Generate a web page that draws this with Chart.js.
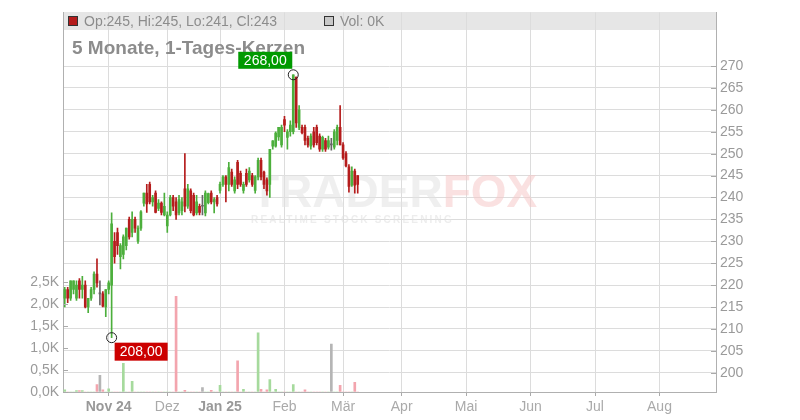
<!DOCTYPE html>
<html>
<head>
<meta charset="utf-8">
<script src="https://cdn.jsdelivr.net/npm/chart.js@4.4.1/dist/chart.umd.min.js"></script>
<style>
  body { margin: 0; background: #fff; }
  canvas { display: block; }
</style>
</head>
<body>
<canvas id="chart" width="800" height="420"></canvas>
<script>
// daily candles, index 1 = first trading day shown (mid Oct 24)
var opens  = [217,219,217,219,217,221,219,220,215,217,219,222.5,218,218,215,219,220,230,232,226.5,
              227,229,235,232,235,230,233,238.7,241,243,239,241,237.5,238.7,236,233.5,236,240,239,236.5,
              237,242,238,241.5,240.5,236.5,238,238,236.5,238.8,241,239,240,241.6,243,244.7,243,245.8,241.5,248,
              245.5,241.6,245.5,244,245,241.6,244.7,248.5,245.8,244,243,251.7,251.7,253.8,252,257.8,253.7,255,255,267.5,
              256,256,256,253.5,251.7,255,256,254,251,253,251.5,252,251.5,253,256,252,250,247,242.8,246,245];
var highs  = [219.5,219.5,221,221,221,221.5,222,221,217,219.5,223,226,221,218.5,219,221,236.5,232,233,229.5,
              231.5,233,235.5,236.7,235.5,233.5,237,241,243,243.5,240.5,241.5,239.5,239,241,236.7,240.5,240.5,240,240.5,
              240,250,243,242,241,240.5,238.5,240.5,241.5,241,241.5,240,240.5,243.5,245,245,248,246.5,244.7,248.5,
              246,243.5,246.5,246.8,245.5,245,249,249,246,244.5,251,253,255,256,256.5,258.5,255.5,257.5,268,267.5,
              261,256.5,256.5,254,254.5,256,256.5,254.5,254,253.5,254,253.5,255.5,256.5,261,252.5,250.5,247.5,247,246.5,245];
var lows   = [215,216,216.5,218,216.5,217,217,214.8,213.7,216.5,218,219.5,215.5,215,212.8,218,208,225,227,223.7,
              226,228,230.5,231,232,229.5,232.5,238,236.6,238.5,238,236.5,237,236,235.8,232,235.8,237,235,236,
              236,236.7,237.5,236.5,235.8,236,236,236,235.8,238.5,238.5,236.5,238,241,242.5,239,241.5,242.5,241,242,
              242.5,241,242.5,243.5,242.5,241,244,244,242,240.5,240,251,251.5,253,251.5,255,251,254,254.5,256,
              255.5,254.5,252,251.5,251,251.5,252,250.5,250.5,250.5,251,250.8,251,252,252,248.7,247,241.2,242.5,241,241];
var closes = [219,217,221,221,220,219,220,215,217,219,222.5,220.5,218,215.2,219,220.5,234,226.5,229,229,
              231,233,231,235,233,233,236.7,241,238.5,239,240,236.6,238.7,236.6,238,236,240,238,236,239.5,
              239,238,242,237,236,239,236.6,238,241,240.9,239,239.5,238.5,243,244.7,243,246.8,243,244,243,
              243,243,243,246,243,244.7,248.5,244.7,243,241.5,251,252.9,254.7,256,256,256.5,255,256.5,268,257,
              260,254.8,253,252,254,252,252.5,251,253.7,251,253,252,255,256,252,249,247.2,242.5,246,242.8,243];
var volumes = [50,0,0,0,30,30,30,0,0,0,0,170,380,50,0,70,0,0,0,0,
               650,0,0,240,0,0,0,0,0,0,0,0,0,0,0,0,0,0,2170,0,
               0,40,0,0,0,0,0,100,0,0,40,0,0,150,0,0,0,0,0,710,
               0,60,0,0,0,0,1340,60,0,50,280,0,60,0,0,0,0,0,170,0,
               0,0,50,0,0,0,0,0,0,0,0,1090,0,0,150,0,0,0,0,220,0];

// month ticks, as trading-day index
var monthTicks  = [16, 36, 54, 76, 96, 116, 138, 160, 182, 204];
var monthLabels = ["Nov 24", "Dez", "Jan 25", "Feb", "Mär", "Apr", "Mai", "Jun", "Jul", "Aug"];
var priceTicks  = [200, 205, 210, 215, 220, 225, 230, 235, 240, 245, 250, 255, 260, 265, 270];
var volTicks    = [0, 500, 1000, 1500, 2000, 2500];

var chartTitle = "5 Monate, 1-Tages-Kerzen";

var UP = "#4caf3c", DOWN = "#b51c1c", FLAT = "#b5b5b5";
var VOL_UP = "#a6da9d", VOL_DOWN = "#f3a5ae";
var FONT = "'Liberation Sans', Arial, sans-serif";

var bodies = [], wicks = [], vols = [], bodyCols = [], volCols = [];
for (var i = 0; i < opens.length; i++) {
  var x = i + 1;
  bodies.push({ x: x, y: [opens[i], closes[i]] });
  wicks.push({ x: x, y: [lows[i], highs[i]] });
  vols.push({ x: x, y: volumes[i] });
  var c = closes[i] > opens[i] ? UP : (closes[i] < opens[i] ? DOWN : FLAT);
  bodyCols.push(c === FLAT ? "#666" : c);
  volCols.push(c === UP ? VOL_UP : (c === DOWN ? VOL_DOWN : FLAT));
}

function fmt(v) { return v.toFixed(2).replace(".", ","); }

// header band, title and watermark under the marks
var backdrop = {
  id: "backdrop",
  beforeDraw: function(chart) {
    var ctx = chart.ctx, a = chart.chartArea;
    ctx.save();
    ctx.fillStyle = "#e6e6e6";
    ctx.fillRect(a.left, 12, a.right - a.left, 18);
    ctx.restore();
  },
  beforeDatasetsDraw: function(chart) {
    var ctx = chart.ctx;
    ctx.save();
    ctx.font = "bold 46px " + FONT;
    ctx.textBaseline = "alphabetic";
    ctx.fillStyle = "rgba(225,225,225,0.55)";
    ctx.fillText("TRADER", 251, 207);
    var w = ctx.measureText("TRADER").width;
    ctx.fillStyle = "rgba(245,200,200,0.55)";
    ctx.fillText("FOX", 251 + w, 207);
    ctx.font = "bold 10px " + FONT;
    ctx.letterSpacing = "2.2px";
    ctx.fillStyle = "rgba(225,225,225,0.6)";
    ctx.fillText("REALTIME STOCK SCREENING", 251, 223);
    ctx.restore();
  },
  afterDraw: function(chart) {
    var ctx = chart.ctx;
    var last = opens.length - 1;
    ctx.save();
    // legend line in the band
    var lc = closes[last] >= opens[last] ? UP : DOWN;
    ctx.fillStyle = lc;
    ctx.fillRect(68, 16, 9, 9);
    ctx.strokeStyle = "#333";
    ctx.lineWidth = 1;
    ctx.strokeRect(68.5, 16.5, 9, 9);
    ctx.fillStyle = "#c8c8c8";
    ctx.fillRect(324, 16, 9, 9);
    ctx.strokeRect(324.5, 16.5, 9, 9);
    ctx.font = "14px " + FONT;
    ctx.fillStyle = "#8c8c8c";
    ctx.textBaseline = "alphabetic";
    ctx.fillText("Op:" + opens[last] + ", Hi:" + highs[last] + ", Lo:" + lows[last] + ", Cl:" + closes[last], 84, 26);
    ctx.fillText("Vol: " + Math.round(volumes[last] / 1000) + "K", 340, 26);
    // title
    ctx.font = "bold 19px " + FONT;
    ctx.fillStyle = "#8c8c8c";
    ctx.fillText(chartTitle, 72, 54);
    ctx.restore();
  }
};

// small ticks on the inner side of both value axes
var innerTicks = {
  id: "innerTicks",
  afterDatasetsDraw: function(chart) {
    var ctx = chart.ctx, a = chart.chartArea;
    var ps = chart.scales.price, vs = chart.scales.vol;
    ctx.save();
    ctx.strokeStyle = "#aaa";
    ctx.lineWidth = 1;
    ctx.beginPath();
    priceTicks.forEach(function(t) {
      var y = Math.round(ps.getPixelForValue(t)) + 0.5;
      ctx.moveTo(a.right - 5, y); ctx.lineTo(a.right, y);
    });
    volTicks.forEach(function(t) {
      var y = Math.round(vs.getPixelForValue(t)) + 0.5;
      ctx.moveTo(a.left, y); ctx.lineTo(a.left + 5, y);
    });
    ctx.stroke();
    ctx.restore();
  }
};

// high / low markers with value boxes
var extremes = {
  id: "extremes",
  afterDraw: function(chart) {
    var ctx = chart.ctx, xs = chart.scales.x, ps = chart.scales.price;
    var hi = 0, lo = 0;
    for (var i = 1; i < highs.length; i++) {
      if (highs[i] > highs[hi]) hi = i;
      if (lows[i] < lows[lo]) lo = i;
    }
    ctx.save();
    ctx.font = "14px " + FONT;
    ctx.textAlign = "center";
    ctx.textBaseline = "middle";

    var hx = xs.getPixelForValue(hi + 1), hy = ps.getPixelForValue(highs[hi]);
    ctx.fillStyle = "#009a00";
    ctx.fillRect(hx - 55, hy - 23, 54, 17);
    ctx.fillStyle = "#fff";
    ctx.fillText(fmt(highs[hi]), hx - 28, hy - 14);

    var lx = xs.getPixelForValue(lo + 1), ly = ps.getPixelForValue(lows[lo]);
    ctx.fillStyle = "#cc0000";
    ctx.fillRect(lx + 3, ly + 5, 53, 18);
    ctx.fillStyle = "#fff";
    ctx.fillText(fmt(lows[lo]), lx + 29.5, ly + 14.5);

    ctx.strokeStyle = "#222";
    ctx.lineWidth = 1;
    [[hx, hy], [lx, ly]].forEach(function(p) {
      ctx.beginPath();
      ctx.arc(p[0], p[1], 5, 0, Math.PI * 2);
      ctx.stroke();
    });
    ctx.restore();
  }
};

var chart = new Chart(document.getElementById("chart"), {
  type: "bar",
  data: {
    datasets: [
      { label: "body", data: bodies, yAxisID: "price", backgroundColor: bodyCols,
        barThickness: 2, minBarLength: 1, grouped: false },
      { label: "wick", data: wicks, yAxisID: "price", backgroundColor: bodyCols,
        barThickness: 1, grouped: false },
      { label: "vol", data: vols, yAxisID: "vol", backgroundColor: volCols,
        barThickness: 2, grouped: false }
    ]
  },
  options: {
    responsive: false,
    animation: false,
    events: [],
    layout: { padding: { top: 12, left: 0, right: 0, bottom: 0 } },
    plugins: { legend: { display: false }, tooltip: { enabled: false } },
    scales: {
      x: {
        type: "linear",
        min: 0.4, max: 223.3,
        offset: false,
        afterBuildTicks: function(s) { s.ticks = monthTicks.map(function(v) { return { value: v }; }); },
        afterFit: function(s) { s.height = 28; },
        grid: { offset: false, color: "#dcdcdc", tickColor: "#aaa", tickLength: 4 },
        border: { color: "#b0b0b0" },
        ticks: {
          autoSkip: false, maxRotation: 0, padding: 3,
          callback: function(v, i) { return monthLabels[i]; },
          color: function(c) { return monthLabels[c.index] && monthLabels[c.index].indexOf(" ") > 0 ? "#999" : "#aaa"; },
          font: function(c) {
            var bold = monthLabels[c.index] && monthLabels[c.index].indexOf(" ") > 0;
            return { family: FONT, size: 14, weight: bold ? "bold" : "normal" };
          }
        }
      },
      price: {
        type: "linear",
        position: "right",
        min: 195.6, max: 282.24,
        afterBuildTicks: function(s) { s.ticks = priceTicks.map(function(v) { return { value: v }; }); },
        afterFit: function(s) { s.width = 84; },
        grid: { color: "#dcdcdc", drawTicks: false },
        border: { color: "#b0b0b0" },
        ticks: { padding: 4, color: "#9a9a9a", font: { family: FONT, size: 14 } }
      },
      vol: {
        type: "linear",
        position: "left",
        min: 0, max: 8613,
        afterBuildTicks: function(s) { s.ticks = volTicks.map(function(v) { return { value: v }; }); },
        afterFit: function(s) { s.width = 63; },
        grid: { drawOnChartArea: false, drawTicks: false },
        border: { color: "#b0b0b0" },
        ticks: {
          padding: 4, color: "#9a9a9a", font: { family: FONT, size: 14 },
          callback: function(v) { return (v / 1000).toFixed(1).replace(".", ",") + "K"; }
        }
      }
    }
  },
  plugins: [backdrop, innerTicks, extremes]
});
</script>
</body>
</html>
